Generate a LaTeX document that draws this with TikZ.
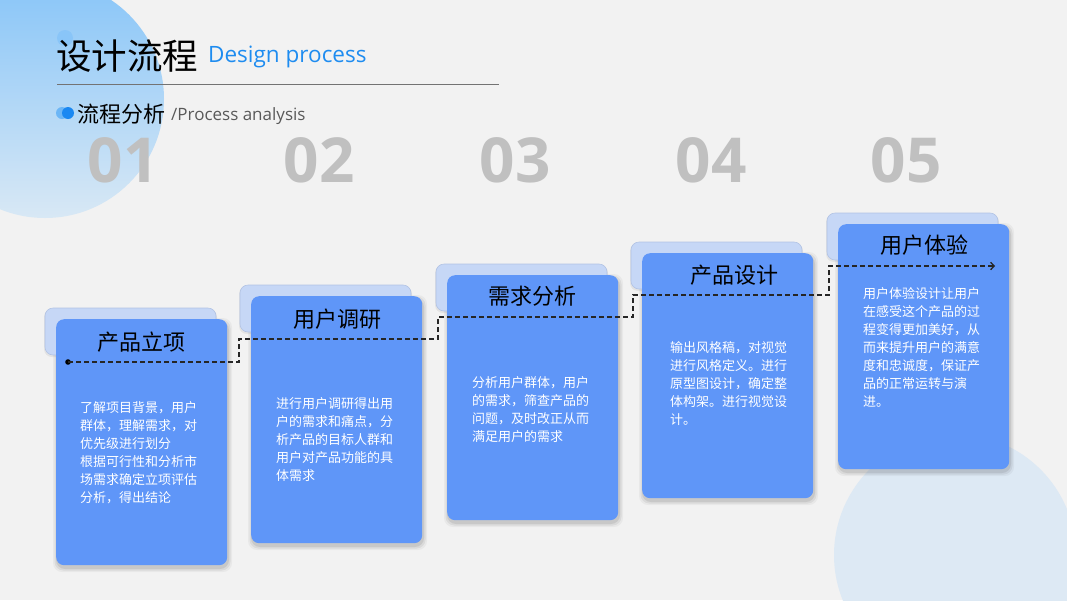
\documentclass[tikz,border=0pt]{standalone}
\usepackage{fontspec}
\setmainfont{Noto Sans CJK SC}
\newfontfamily\opensans{Open Sans}
\usetikzlibrary{arrows.meta}
\definecolor{bg}{HTML}{F2F2F2}
\definecolor{ctop}{HTML}{88C5F8}
\definecolor{cbot}{HTML}{D8E8F5}
\definecolor{circ2}{HTML}{DDE9F4}
\definecolor{front}{HTML}{5F96F8}
\definecolor{back}{HTML}{C6D7F6}
\definecolor{backline}{HTML}{B2C3E4}
\definecolor{numgray}{HTML}{C0C0C0}
\definecolor{tblue}{HTML}{1E8CF0}
\definecolor{dotlight}{HTML}{6CB6F6}
\definecolor{dotdark}{HTML}{1A88F2}
\tikzset{
  cardtitle/.style={font=\fontsize{22}{26}\selectfont, text=black, inner sep=0pt},
  cardbody/.style={font=\fontsize{13}{18}\selectfont, text=white, inner sep=0pt, anchor=base west},
  numtext/.style={font=\opensans\bfseries\fontsize{62}{70}\selectfont, text=numgray, inner sep=0pt},
  conn/.style={draw=black!85, line width=1.3pt, dash pattern=on 5pt off 3pt},
  frontcard/.style={fill=front, rounded corners=8pt},
  backcard/.style={fill=back, draw=backline, line width=0.6pt, rounded corners=8pt},
}
\newcommand\mycard[4]{% name, left, top, height
  \foreach \s/\o in {4/0.04,2.5/0.06,1/0.08}{
    \fill[black, opacity=\o, rounded corners=9pt] ({#2-\s+1},{#3-\s+3}) rectangle ({#2+171+\s+1},{#3+#4+\s+3});
  }
  \fill[black, opacity=0.06, rounded corners=8pt] ({#2-12},{#3-10}) rectangle ({#2+161},{#3+38});
  \draw[backcard] ({#2-11},{#3-11}) rectangle ({#2+160},{#3+36});
  \node[frontcard, minimum width=171pt, minimum height=#4pt, anchor=north west, inner sep=0pt] (#1) at (#2,#3) {};
}
\begin{document}
\begin{tikzpicture}[x=1pt,y=-1pt]
\useasboundingbox (0,0) rectangle (1067,600);
\fill[bg] (0,0) rectangle (1067,600);
\begin{scope}
  \clip (0,0) rectangle (1067,600);
  \shade[top color=ctop, bottom color=cbot] (45,99) circle (119);
  \fill[circ2] (955,555) circle (121);
\end{scope}

% header
\fill[dotlight!80] (65,38) circle (8);
\node[anchor=west, inner sep=0pt, font=\fontsize{35.5}{40}\selectfont] (title) at (56,56) {设计流程};
\node[anchor=base west, inner sep=0pt, font=\opensans\fontsize{22.5}{26}\selectfont, text=tblue] (titleen) at (208,62) {Design process};
\draw[draw=black!55, line width=0.9pt] (57,84) -- (499,84);
\fill[dotlight] (62,113) circle (6);
\fill[dotdark] (68,113) circle (6);
\node[anchor=west, inner sep=0pt, font=\fontsize{22}{26}\selectfont] (sub) at (77,114) {流程分析};
\node[anchor=base west, inner sep=0pt, font=\opensans\fontsize{17}{20}\selectfont, text=black!65] (suben) at (171,120) {/Process analysis};

% numbers
\node[numtext] (n1) at (123,160) {01};
\node[numtext] (n2) at (319,160) {02};
\node[numtext] (n3) at (515,160) {03};
\node[numtext] (n4) at (711,160) {04};
\node[numtext] (n5) at (906,160) {05};

% cards
\mycard{c1}{56}{319}{246}
\mycard{c2}{251}{296}{247}
\mycard{c3}{447}{275}{245}
\mycard{c4}{642}{253}{245}
\mycard{c5}{838}{224}{245}

\node[cardtitle] (t1) at (141,342) {产品立项};
\node[cardtitle] (t2) at (337,319) {用户调研};
\node[cardtitle] (t3) at (532,296) {需求分析};
\node[cardtitle] (t4) at (734,275) {产品设计};
\node[cardtitle] (t5) at (924,245) {用户体验};

\node[cardbody] (b1) at (80,412) {\parbox[t]{140pt}{\raggedright 了解项目背景，用户\\群体，理解需求，对\\优先级进行划分\\根据可行性和分析市\\场需求确定立项评估\\分析，得出结论}};
\node[cardbody] (b2) at (276,408) {\parbox[t]{140pt}{\raggedright 进行用户调研得出用\\户的需求和痛点，分\\析产品的目标人群和\\用户对产品功能的具\\体需求}};
\node[cardbody] (b3) at (472,387) {\parbox[t]{140pt}{\raggedright 分析用户群体，用户\\的需求，筛查产品的\\问题，及时改正从而\\满足用户的需求}};
\node[cardbody] (b4) at (670,352) {\parbox[t]{140pt}{\raggedright 输出风格稿，对视觉\\进行风格定义。进行\\原型图设计，确定整\\体构架。进行视觉设\\计。}};
\node[cardbody] (b5) at (863,298) {\parbox[t]{140pt}{\raggedright 用户体验设计让用户\\在感受这个产品的过\\程变得更加美好，从\\而来提升用户的满意\\度和忠诚度，保证产\\品的正常运转与演\\进。}};

% connector
\coordinate (p0) at (68,362);
\coordinate (p9) at (995,266);
\fill[black] (p0) circle (2.8);
\draw[conn, -{Straight Barb[length=3.5pt,width=7.5pt]}] (p0) -- (239,362) |- (438,339) |- (633,317) |- (829,295) |- (p9);
\end{tikzpicture}
\end{document}
